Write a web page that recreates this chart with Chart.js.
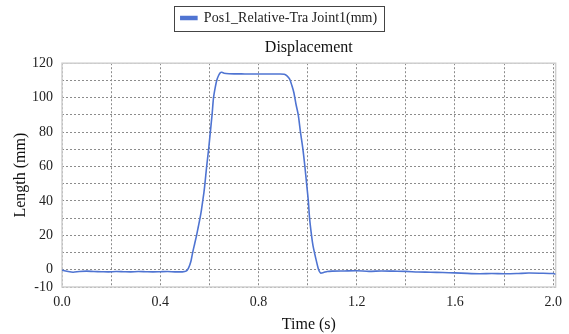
<!DOCTYPE html>
<html lang="en">
<head>
  <meta charset="UTF-8" />
  <title>Displacement</title>
  <script src="https://cdn.jsdelivr.net/npm/chart.js"></script>
  <style>
    html, body {
      margin: 0;
      padding: 0;
      background: #ffffff;
    }
    #wrap {
      width: 569px;
      height: 334px;
      position: relative;
    }
  </style>
</head>
<body>
  <div id="wrap">
    <canvas id="dispChart"></canvas>
  </div>

  <script>
    // time (s) and displacement (mm)
    const times = [
      0.00, 0.02, 0.045, 0.07, 0.10, 0.13, 0.16, 0.19, 0.22, 0.25, 0.28, 0.31, 0.34, 0.37, 0.40, 0.43, 0.46, 0.49,
      0.505, 0.515, 0.525, 0.532, 0.540, 0.548, 0.555, 0.562, 0.568, 0.573, 0.578, 0.582, 0.589, 0.597, 0.604,
      0.611, 0.617, 0.624, 0.630, 0.638, 0.645, 0.651, 0.66, 0.68, 0.70, 0.73, 0.76, 0.80, 0.84, 0.88, 0.905,
      0.915, 0.927, 0.936, 0.944, 0.953, 0.962, 0.971, 0.981, 0.989, 0.996, 1.003, 1.008, 1.016, 1.022, 1.028,
      1.036, 1.045, 1.053, 1.065, 1.08, 1.10, 1.15, 1.20, 1.25, 1.30, 1.35, 1.40, 1.45, 1.50, 1.55, 1.60, 1.65,
      1.70, 1.75, 1.80, 1.85, 1.90, 1.95, 2.00, 2.01
    ];
    const lengths = [
      -0.2, -0.8, -1.4, -1.0, -0.8, -1.0, -1.1, -1.2, -1.0, -1.1, -1.2, -1.0, -1.1, -1.2, -1.1, -1.0, -1.2, -1.2,
      -0.8, 1, 5, 10, 15, 20, 25, 30, 35, 40, 45, 50, 60, 70, 80,
      90, 100, 106, 110, 113, 114.5, 114.7, 114.2, 113.9, 113.8, 113.8, 113.7, 113.7, 113.7, 113.7, 113.6,
      112.8, 110.8, 107, 103, 96, 90, 80, 70, 60, 50, 40, 30, 20, 14, 10,
      5, 0, -1.9, -1.6, -1.0, -0.8, -0.7, -0.6, -0.9, -0.7, -0.8, -0.9, -1.3, -1.4, -1.6, -1.8, -2.1,
      -2.3, -2.2, -2.3, -2.2, -1.9, -2.0, -2.2, -2.6
    ];

    const xTicks = [0, 0.2, 0.4, 0.6, 0.8, 1.0, 1.2, 1.4, 1.6, 1.8, 2.0];
    const xLabelled = [0, 0.4, 0.8, 1.2, 1.6, 2.0];
    const yTicks = [-10, 0, 10, 20, 30, 40, 50, 60, 70, 80, 90, 100, 110, 120];
    const yLabelled = [-10, 0, 20, 40, 60, 80, 100, 120];

    const lineColor = "#4f74d2";
    const serif = "'Liberation Serif', 'Times New Roman', serif";

    const isIn = (list, v) => list.some(t => Math.abs(t - v) < 1e-6);

    // draws the frame round the plot and the box round the legend
    const framePlugin = {
      id: "frame",
      beforeDatasetsDraw(chart) {
        const a = chart.chartArea;
        const c = chart.ctx;
        c.save();
        c.strokeStyle = "#cfcfcf";
        c.lineWidth = 1.5;
        c.strokeRect(a.left, a.top, a.right - a.left, a.bottom - a.top);
        c.restore();
      },
      afterDraw(chart) {
        const hb = chart.legend.legendHitBoxes[0];
        if (!hb) return;
        const c = chart.ctx;
        c.save();
        c.strokeStyle = "#444";
        c.lineWidth = 1;
        c.strokeRect(Math.round(hb.left - 7) + 0.5, Math.round(hb.top - 5) + 0.5, Math.round(hb.width + 14), 25);
        c.restore();
      }
    };

    const gridDash = [2, 2];

    const ctx = document.getElementById("dispChart").getContext("2d");

    const dispChart = new Chart(ctx, {
      type: "line",
      data: {
        datasets: [{
          label: "Pos1_Relative-Tra Joint1(mm)",
          data: times.map((t, i) => ({ x: t, y: lengths[i] })),
          borderColor: lineColor,
          backgroundColor: lineColor,
          borderWidth: 1.6,
          pointRadius: 0,
          fill: false,
          tension: 0.25
        }]
      },
      options: {
        responsive: true,
        maintainAspectRatio: false,
        animation: false,
        layout: {
          padding: { left: 0, right: 11, top: 2, bottom: 0 }
        },
        plugins: {
          legend: {
            position: "top",
            weight: 3000,
            labels: {
              boxWidth: 16,
              boxHeight: 3,
              color: "#222",
              padding: 9,
              font: { family: serif, size: 14 }
            }
          },
          title: {
            display: true,
            text: "Displacement",
            fullSize: false,
            color: "#111",
            padding: { top: 3, bottom: 6 },
            font: { family: serif, size: 16, weight: "normal" }
          },
          tooltip: { enabled: false }
        },
        scales: {
          x: {
            type: "linear",
            min: 0,
            max: 2.01,
            afterBuildTicks: s => { s.ticks = xTicks.map(v => ({ value: v })); },
            afterFit: s => { s.height = 47; },
            border: { display: false, dash: gridDash },
            grid: {
              color: "#8c8c8c",
              lineWidth: 1,
              drawTicks: false
            },
            ticks: {
              padding: 7,
              color: "#222",
              maxRotation: 0,
              autoSkip: false,
              font: { family: serif, size: 14 },
              callback: v => isIn(xLabelled, v) ? v.toFixed(1) : ""
            },
            title: {
              display: true,
              text: "Time (s)",
              color: "#111",
              padding: { top: 2, bottom: 0 },
              font: { family: serif, size: 16 }
            }
          },
          y: {
            min: -10,
            max: 120,
            afterBuildTicks: s => { s.ticks = yTicks.map(v => ({ value: v })); },
            afterFit: s => { s.width = 62; },
            border: { display: false, dash: gridDash },
            grid: {
              color: "#8c8c8c",
              lineWidth: 1,
              drawTicks: false
            },
            ticks: {
              padding: 9,
              color: "#222",
              autoSkip: false,
              font: { family: serif, size: 14 },
              callback: v => isIn(yLabelled, v) ? String(v) : ""
            },
            title: {
              display: true,
              text: "Length (mm)",
              color: "#111",
              padding: { top: 11, bottom: 0 },
              font: { family: serif, size: 16 }
            }
          }
        }
      },
      plugins: [framePlugin]
    });
  </script>
</body>
</html>
